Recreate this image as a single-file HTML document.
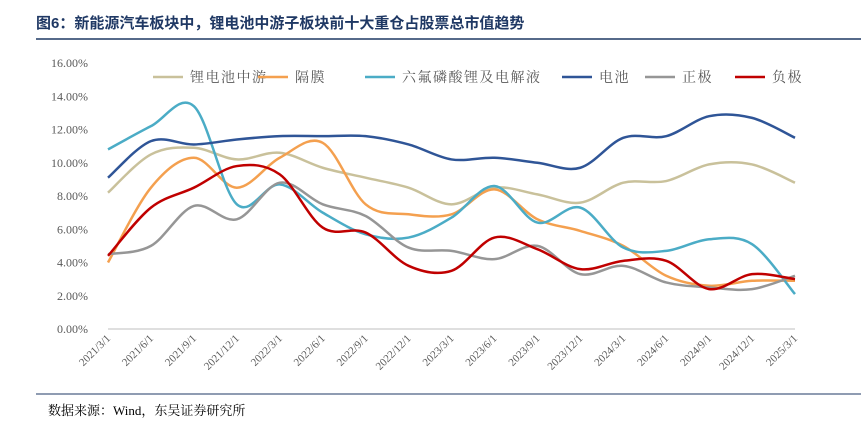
<!DOCTYPE html>
<html><head><meta charset="utf-8"><style>
body{margin:0;background:#fff;width:861px;height:427px;overflow:hidden;font-family:"Liberation Serif","Noto Serif CJK SC",serif;}
</style></head><body>
<svg width="861" height="427" xmlns="http://www.w3.org/2000/svg">
<text x="36" y="28" font-size="15" font-weight="bold" fill="#1f3864" font-family="Liberation Sans, Noto Sans CJK SC, sans-serif">图6：新能源汽车板块中，锂电池中游子板块前十大重仓占股票总市值趋势</text>
<line x1="36" y1="39" x2="861" y2="39" stroke="#1f3864" stroke-width="1.5"/>
<line x1="36" y1="394" x2="861" y2="394" stroke="#1f3864" stroke-width="1"/>
<text x="48" y="415" font-size="13" fill="#000" font-family="Liberation Serif, Noto Serif CJK SC, serif">数据来源：Wind，东吴证券研究所</text>
<g id="yaxis"></g><g id="xaxis"></g><g id="series"></g><g id="legend"></g>
</svg>
<script>
const categories=["2021/3/1","2021/6/1","2021/9/1","2021/12/1","2022/3/1","2022/6/1","2022/9/1","2022/12/1","2023/3/1","2023/6/1","2023/9/1","2023/12/1","2024/3/1","2024/6/1","2024/9/1","2024/12/1","2025/3/1"];
const yTicks=[0,2,4,6,8,10,12,14,16];
const seriesNames=["锂电池中游","隔膜","六氟磷酸锂及电解液","电池","正极","负极"];
const colors=["#c9c19b","#f4a04f","#4bacc6","#2f5597","#969696","#c00000"];
const midstream=[8.2,10.5,10.9,10.2,10.6,9.7,9.1,8.5,7.5,8.5,8.1,7.6,8.8,8.9,9.9,9.9,8.8];
const separator=[4.0,8.5,10.3,8.5,10.3,11.2,7.5,6.9,6.9,8.4,6.6,5.9,5.0,3.2,2.6,2.9,2.9];
const electrolyte=[10.8,12.2,13.4,7.5,8.7,7.0,5.7,5.5,6.7,8.6,6.4,7.3,4.9,4.7,5.4,5.1,2.1];
const battery=[9.1,11.3,11.1,11.4,11.6,11.6,11.6,11.1,10.2,10.3,10.0,9.7,11.5,11.6,12.8,12.7,11.5];
const cathode=[4.5,5.0,7.4,6.6,8.8,7.5,6.8,4.9,4.7,4.2,5.0,3.3,3.8,2.8,2.5,2.4,3.2];
const anode=[4.4,7.3,8.5,9.8,9.3,6.1,5.8,3.8,3.5,5.5,4.8,3.6,4.1,4.1,2.4,3.3,3.0];
const allSeries=[midstream,separator,electrolyte,battery,cathode,anode];
const NS="http://www.w3.org/2000/svg";
const x0=108,x1=795,yTop=63,yBot=329,yMax=16;
const xs=i=>x0+i*(x1-x0)/(categories.length-1);
const ys=v=>yBot-v/yMax*(yBot-yTop);
function mk(t,a,p){const e=document.createElementNS(NS,t);for(const k in a)e.setAttribute(k,a[k]);p.appendChild(e);return e;}
const ya=document.getElementById('yaxis');
yTicks.forEach(v=>{const t=mk('text',{x:88,y:ys(v)+4,'font-size':12,'text-anchor':'end',fill:'#595959'},ya);t.textContent=v.toFixed(2)+'%';

});
const xa=document.getElementById('xaxis');
const ax=mk('line',{x1:x0,y1:yBot,x2:x1,y2:yBot,stroke:'#bfbfbf'},xa);


categories.forEach((c,i)=>{const x=xs(i);const t=mk('text',{x:x+3,y:yBot+10,'font-size':11,'text-anchor':'end',fill:'#595959',transform:`rotate(-45 ${x+3} ${yBot+10})`},xa);t.textContent=c;

});
function path(vals){const p=vals.map((v,i)=>[xs(i),ys(v)]);let d=`M${p[0][0]},${p[0][1]}`;
for(let i=0;i<p.length-1;i++){const a=p[i-1]||p[i],b=p[i],c=p[i+1],e=p[i+2]||c;
d+=` C${b[0]+(c[0]-a[0])/6},${b[1]+(c[1]-a[1])/6} ${c[0]-(e[0]-b[0])/6},${c[1]-(e[1]-b[1])/6} ${c[0]},${c[1]}`;}return d;}
const sg=document.getElementById('series');
const snames=['midstream-line','separator-line','electrolyte-line','battery-line','cathode-line','anode-line'];
allSeries.forEach((s,k)=>{const e=mk('path',{d:path(s),fill:'none',stroke:colors[k],'stroke-width':2.5},sg);

});
const lg=document.getElementById('legend');
const lx=[153,258,365,562,645,735];
seriesNames.forEach((n,k)=>{const g=mk('g',{},lg);


mk('line',{x1:lx[k],y1:77,x2:lx[k]+30,y2:77,stroke:colors[k],'stroke-width':2.5},g);
const t=mk('text',{x:lx[k]+37,y:82,'font-size':14,'letter-spacing':1.5,fill:'#595959'},g);t.textContent=n;});
</script>
</body></html>
